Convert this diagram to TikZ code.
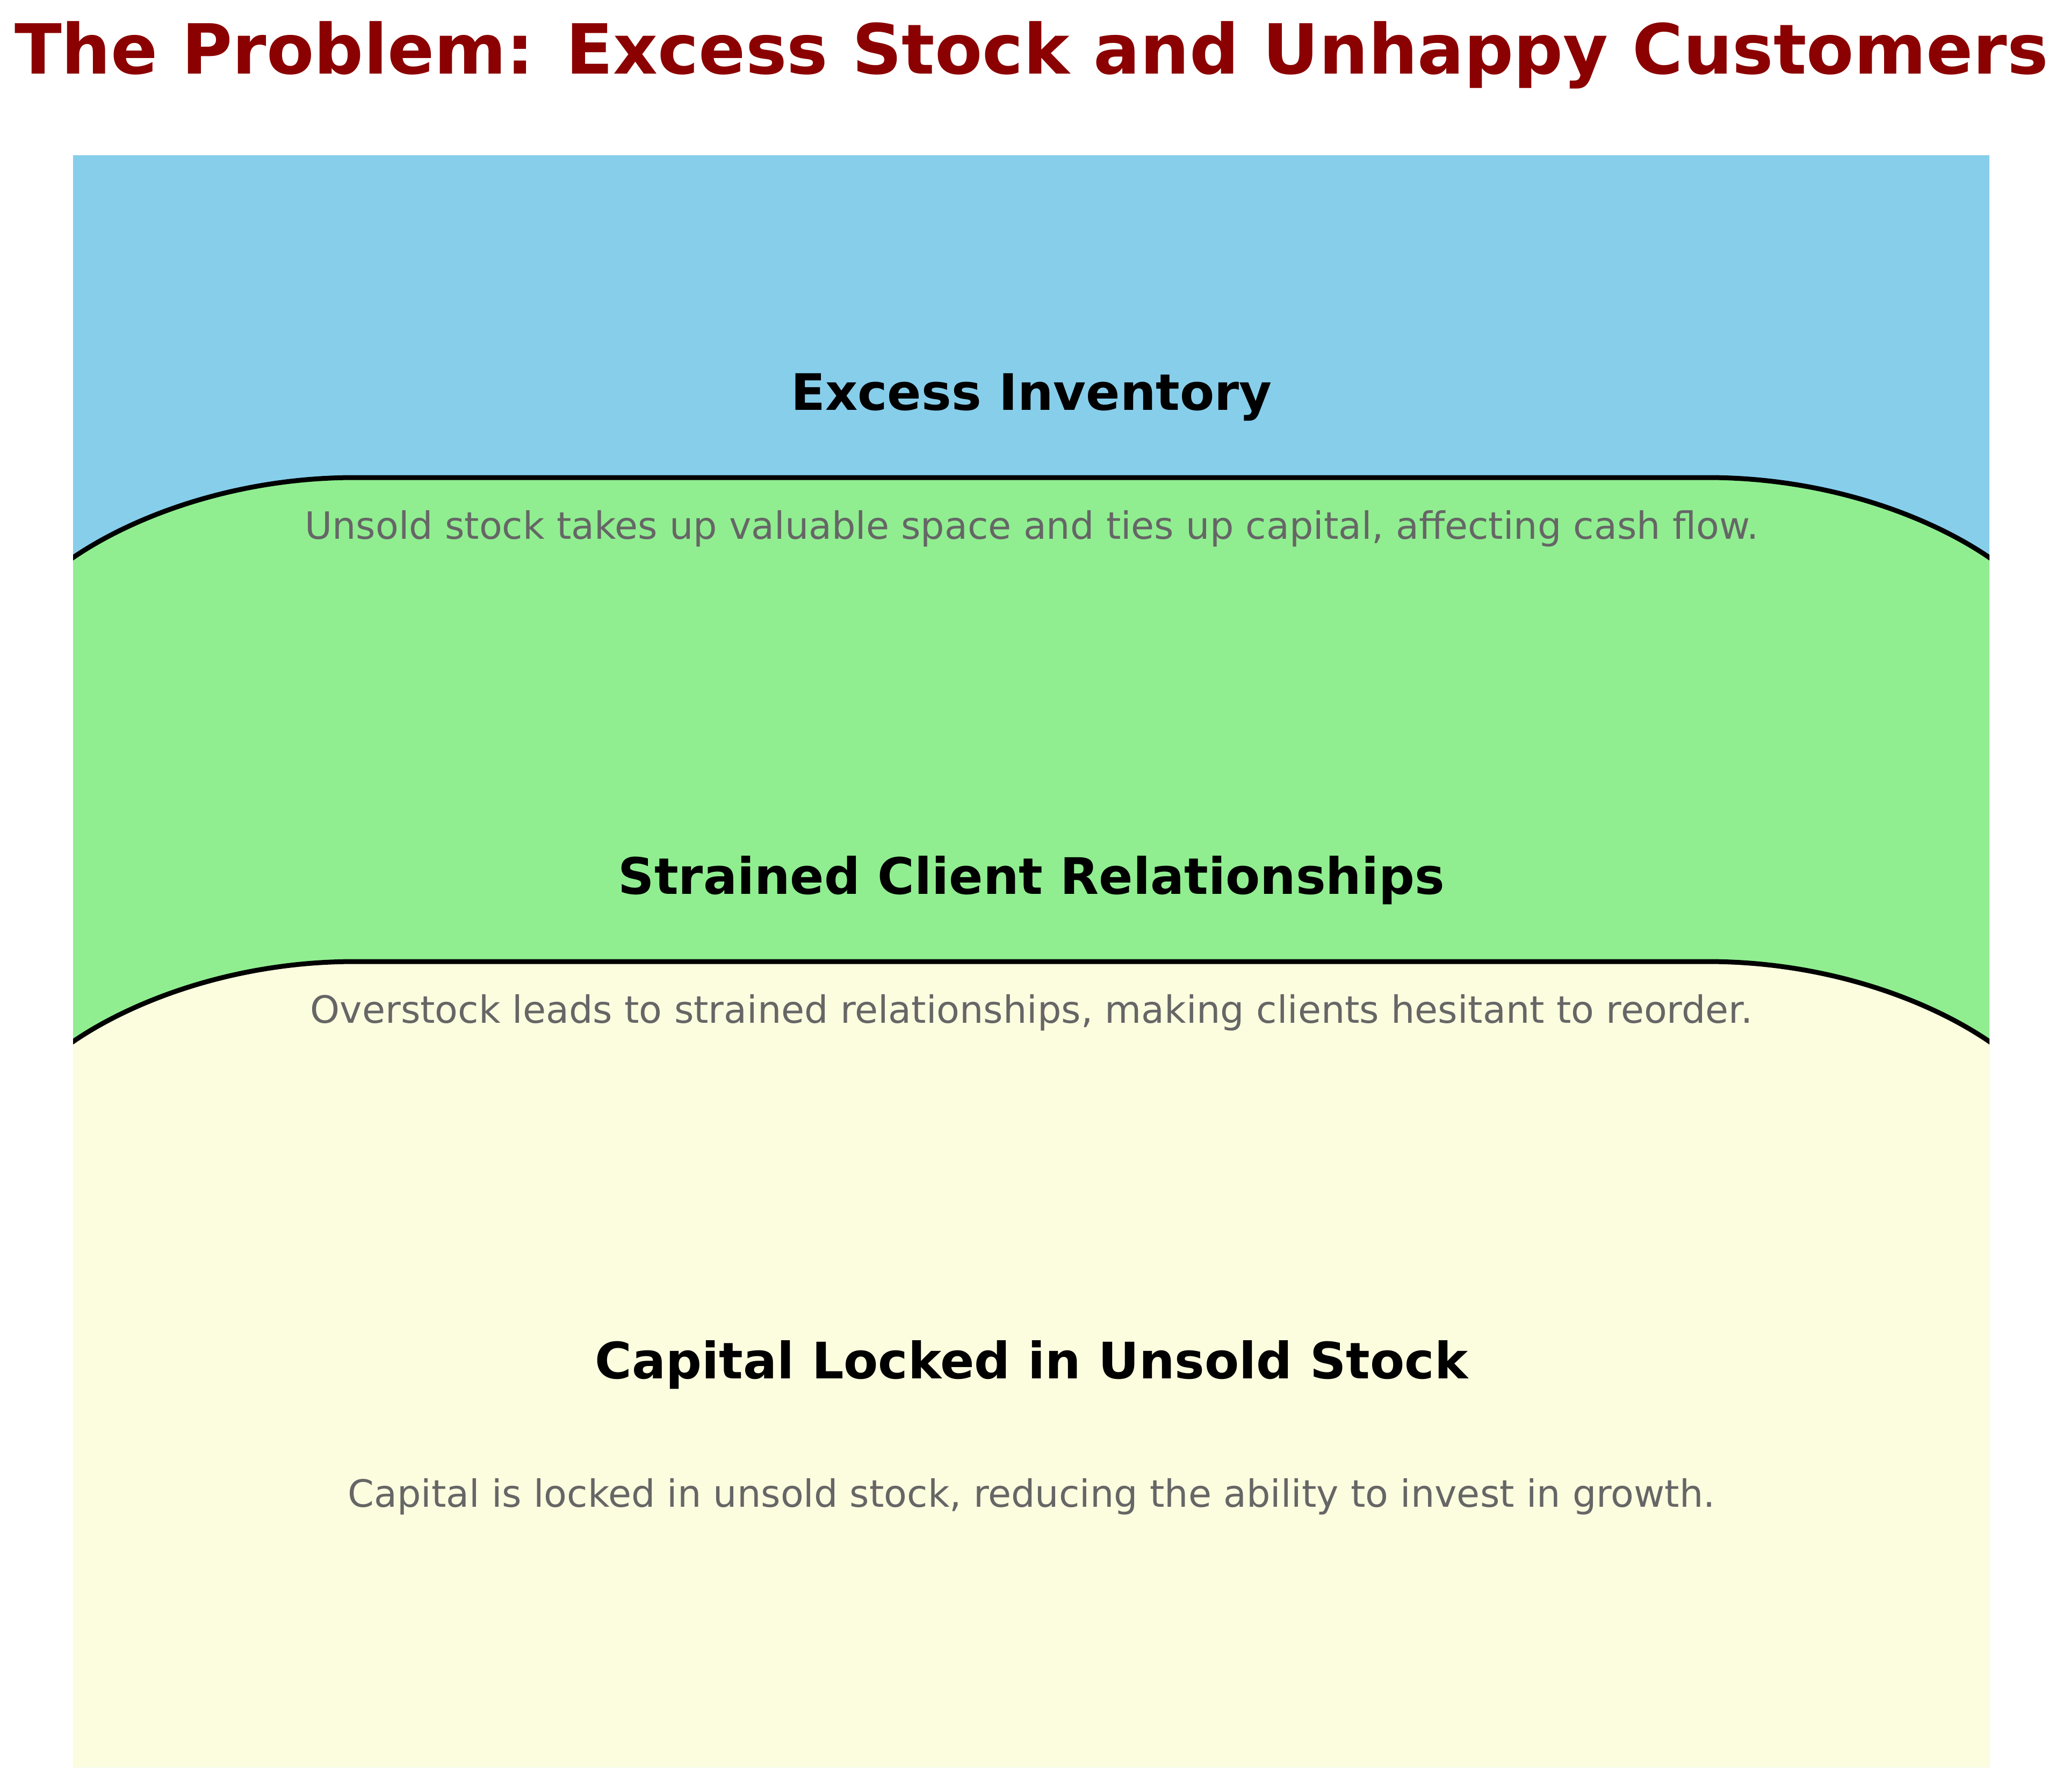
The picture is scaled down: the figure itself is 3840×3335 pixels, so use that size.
\documentclass[tikz,border=0pt]{standalone}
\usepackage{fontspec}
\setmainfont{DejaVu Sans}
\definecolor{skyb}{HTML}{87CEEB}
\definecolor{lgreen}{HTML}{90EE90}
\definecolor{lyellow}{HTML}{FCFCDF}
\definecolor{darkred}{HTML}{8B0000}
\definecolor{descgray}{HTML}{666666}
\tikzset{
  titletext/.style={anchor=base, inner sep=0pt, text=darkred, font=\fontsize{36.6}{44}\selectfont\bfseries},
  labeltext/.style={anchor=base, inner sep=0pt, text=black, font=\fontsize{26.6}{32}\selectfont\bfseries},
  desctext/.style={anchor=base, inner sep=0pt, text=descgray, font=\fontsize{19.9}{24}\selectfont},
  edgeline/.style={draw=black, line width=0.09cm}
}
\begin{document}
\begin{tikzpicture}[x=0.01cm,y=-0.01cm]
\useasboundingbox (0,0) rectangle (3840,3335);
\begin{scope}
  \clip (136,289) rectangle (3703,3290);
  \fill[skyb] (136,289) rectangle (3703,3290);
  \fill[lgreen] (136,1038) .. controls (250,960) and (440,889) .. (660,889) -- (3179,889) .. controls (3399,889) and (3589,960) .. (3703,1038) -- (3703,3290) -- (136,3290) -- cycle;
  \fill[lyellow] (136,1939) .. controls (250,1861) and (440,1790) .. (660,1790) -- (3179,1790) .. controls (3399,1790) and (3589,1861) .. (3703,1939) -- (3703,3290) -- (136,3290) -- cycle;
  \draw[edgeline] (100,1062) -- (136,1038) .. controls (250,960) and (440,889) .. (660,889) -- (3179,889) .. controls (3399,889) and (3589,960) .. (3703,1038) -- (3739,1062);
  \draw[edgeline] (100,1963) -- (136,1939) .. controls (250,1861) and (440,1790) .. (660,1790) -- (3179,1790) .. controls (3399,1790) and (3589,1861) .. (3703,1939) -- (3739,1963);
\end{scope}
\node[titletext] (title) at (1920,137) {The Problem: Excess Stock and Unhappy Customers};
\node[labeltext] (l1) at (1920,763) {Excess Inventory};
\node[desctext] (d1) at (1920,1003) {Unsold stock takes up valuable space and ties up capital, affecting cash flow.};
\node[labeltext] (l2) at (1920,1664) {Strained Client Relationships};
\node[desctext] (d2) at (1920,1904) {Overstock leads to strained relationships, making clients hesitant to reorder.};
\node[labeltext] (l3) at (1920,2566) {Capital Locked in Unsold Stock};
\node[desctext] (d3) at (1920,2805) {Capital is locked in unsold stock, reducing the ability to invest in growth.};
\end{tikzpicture}
\end{document}
